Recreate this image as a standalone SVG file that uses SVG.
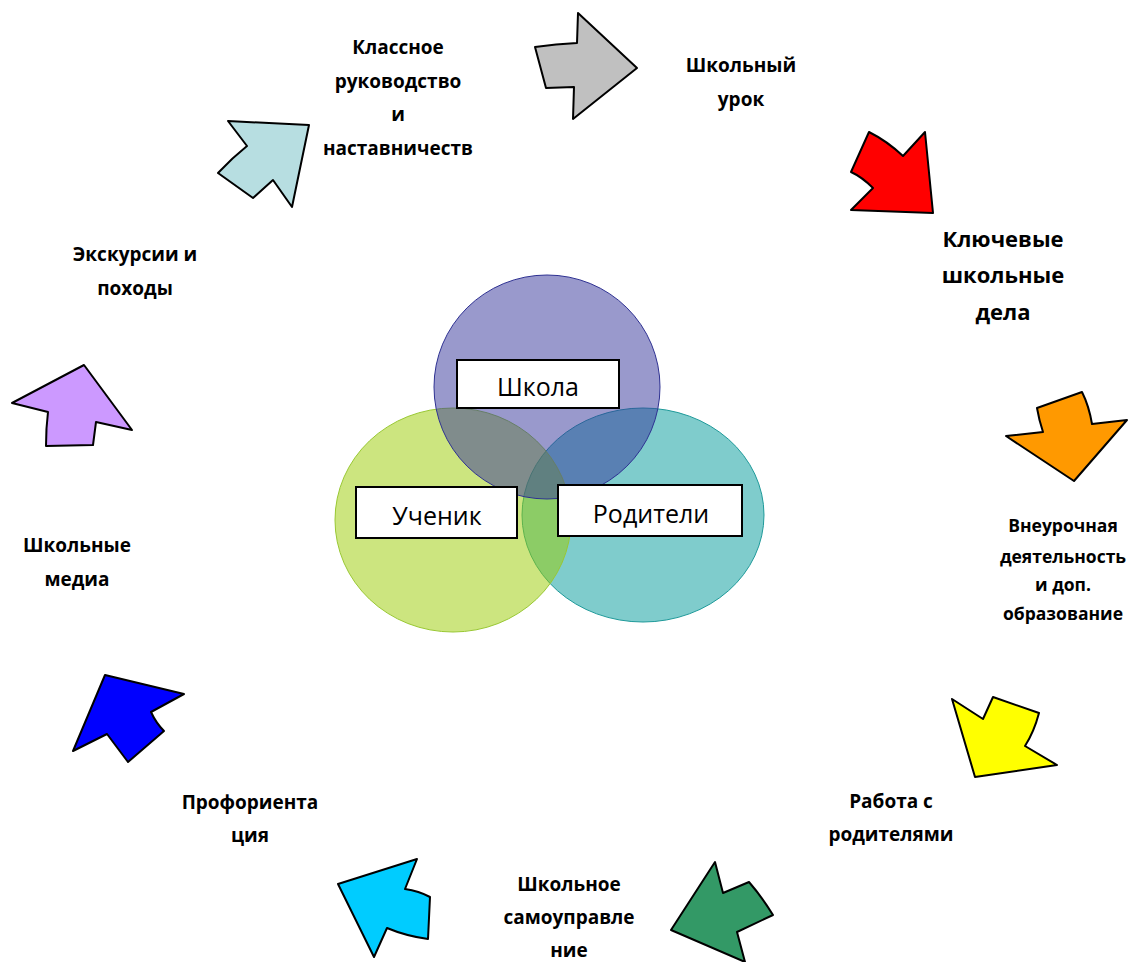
<svg xmlns="http://www.w3.org/2000/svg" width="1128" height="962" viewBox="0 0 1128 962">
<style>
.arr{stroke:#000;stroke-width:2;stroke-linejoin:round}
.lbl{font-family:"Open Sans","Liberation Sans",sans-serif;font-weight:bold;font-size:19px;fill:#000;text-anchor:middle}
.key{font-size:22px}
.ext{font-size:17.5px}
.box{fill:#fff;stroke:#000;stroke-width:2}
.bt{font-family:"Open Sans","Liberation Sans",sans-serif;font-size:25px;fill:#000;text-anchor:middle}
</style>
<rect width="1128" height="962" fill="#fff"/>
<g id="venn">
<ellipse id="c-parents" cx="643" cy="515" rx="121" ry="107" fill="rgb(0,153,153)" fill-opacity="0.5" stroke="#1f9a9a" stroke-width="1"/>
<ellipse id="c-student" cx="453" cy="520" rx="118" ry="112" fill="rgb(153,204,0)" fill-opacity="0.5" stroke="#99c833" stroke-width="1"/>
<ellipse id="c-school" cx="547" cy="387" rx="113" ry="112" fill="rgb(51,51,153)" fill-opacity="0.5" stroke="#2e3192" stroke-width="1"/>
</g>
<g id="n-school"><rect class="box" x="457" y="360" width="162" height="48"/><text class="bt" x="538" y="396">Школа</text></g>
<g id="n-student"><rect class="box" x="356" y="487" width="161" height="51"/><text class="bt" x="437" y="525">Ученик</text></g>
<g id="n-parents"><rect class="box" x="558" y="485" width="184" height="51"/><text class="bt" x="651" y="523">Родители</text></g>
<g id="connectors">
<path class="arr" fill="#c0c0c0" d="M535,47 Q556,44 577,43 L578,13 L637,68 L573,119 L574,87 L546,88 Z"/>
<path class="arr" fill="#ff0000" d="M869,132 Q887,141 903,156 L925,132 L933,213 L851,210 L873,188 Q862,177 851,172 Z"/>
<path class="arr" fill="#ff9900" d="M1037,408 L1082,392 Q1089,406 1092,424 L1127,420 L1074,481 L1006,436 L1043,432 Q1039,420 1037,408 Z"/>
<path class="arr" fill="#ffff00" d="M952,699 L983,719 L993,697 L1039,713 Q1034,732 1025,746 L1057,765 L975,777 Z"/>
<path class="arr" fill="#339966" d="M715,862 L723,893 L749,882 Q762,897 773,915 L737,932 L745,962 L671,930 Z"/>
<path class="arr" fill="#00ccff" d="M417,859 L405,889 Q419,891 430,897 L428,939 Q406,936 387,928 L374,957 L338,884 Z"/>
<path class="arr" fill="#0000ff" d="M105,675 L184,694 L151,712 Q156,723 164,731 L128,762 L107,734 L73,751 Z"/>
<path class="arr" fill="#cc99ff" d="M84,365 L132,430 L96,422 L93,445 L46,446 Q46,428 48,412 L12,403 Z"/>
<path class="arr" fill="#b7dee1" d="M228,121 L309,125 L292,207 L273,180 L253,198 L218,173 Q232,158 247,146 Z"/>
</g>
<g id="n-class"><text class="lbl" x="398" y="54">Классное</text><text class="lbl" x="398" y="88">руководство</text><text class="lbl" x="398" y="121">и</text><text class="lbl" x="398" y="155">наставничеств</text></g>
<g id="n-lesson"><text class="lbl" x="741" y="72">Школьный</text><text class="lbl" x="741" y="106">урок</text></g>
<g id="n-key"><text class="lbl key" x="1003" y="247">Ключевые</text><text class="lbl key" x="1003" y="283">школьные</text><text class="lbl key" x="1003" y="320">дела</text></g>
<g id="n-extra"><text class="lbl ext" x="1063" y="532">Внеурочная</text><text class="lbl ext" x="1063" y="563">деятельность</text><text class="lbl ext" x="1063" y="591">и доп.</text><text class="lbl ext" x="1063" y="620">образование</text></g>
<g id="n-parentswork"><text class="lbl" x="891" y="808">Работа с</text><text class="lbl" x="891" y="841">родителями</text></g>
<g id="n-selfgov"><text class="lbl" x="569" y="891">Школьное</text><text class="lbl" x="569" y="924">самоуправле</text><text class="lbl" x="569" y="957">ние</text></g>
<g id="n-career"><text class="lbl" x="250" y="809">Профориента</text><text class="lbl" x="250" y="842">ция</text></g>
<g id="n-media"><text class="lbl" x="77" y="552">Школьные</text><text class="lbl" x="77" y="586">медиа</text></g>
<g id="n-trips"><text class="lbl" x="135" y="261">Экскурсии и</text><text class="lbl" x="135" y="295">походы</text></g>
</svg>
